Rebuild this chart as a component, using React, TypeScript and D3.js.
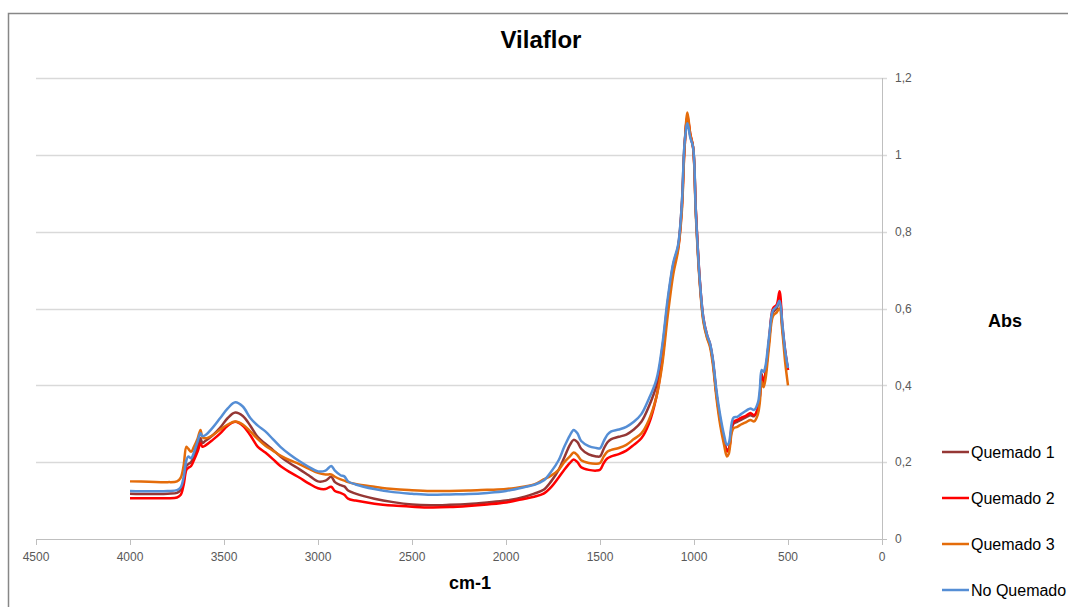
import React from 'react';
import * as d3 from 'd3';

const wavenumbers = [
  4000, 3900, 3800, 3750, 3730, 3715, 3700, 3690, 3675, 3660, 3640, 3625, 3615, 3600, 3560, 3520, 3480, 3440,
  3400, 3360, 3320, 3280, 3240, 3200, 3150, 3100, 3050, 3000, 2960, 2930, 2910, 2880, 2860, 2840, 2800, 2700,
  2600, 2500, 2400, 2300, 2200, 2100, 2000, 1900, 1850, 1800, 1760, 1720, 1690, 1660, 1640, 1620, 1600, 1560,
  1520, 1500, 1480, 1460, 1440, 1400, 1360, 1320, 1280, 1240, 1200, 1170, 1140, 1110, 1085, 1065, 1050, 1035,
  1020, 1005, 990, 970, 950, 930, 915, 900, 880, 860, 840, 825, 815, 800, 790, 770, 750, 720, 700, 680, 660,
  650, 640, 630, 620, 600, 580, 560, 545, 530, 515, 500,
];

const quemado1 = [
  0.118, 0.117, 0.118, 0.12, 0.128, 0.15, 0.19, 0.195, 0.2, 0.215, 0.24, 0.262, 0.25, 0.255, 0.27, 0.29, 0.315, 0.329,
  0.32, 0.295, 0.265, 0.248, 0.232, 0.215, 0.197, 0.182, 0.166, 0.15, 0.152, 0.162, 0.148, 0.14, 0.137, 0.126, 0.118, 0.105,
  0.096, 0.09, 0.088, 0.089, 0.091, 0.095, 0.1, 0.11, 0.118, 0.128, 0.15, 0.18, 0.212, 0.245, 0.258, 0.252, 0.235, 0.22,
  0.215, 0.215, 0.235, 0.252, 0.26, 0.266, 0.272, 0.285, 0.305, 0.345, 0.4, 0.49, 0.615, 0.715, 0.76, 0.87, 1.03, 1.095,
  1.05, 1.02, 0.85, 0.675, 0.57, 0.525, 0.505, 0.465, 0.375, 0.31, 0.26, 0.232, 0.235, 0.285, 0.3, 0.305, 0.31, 0.318, 0.322, 0.32, 0.34,
  0.37, 0.43, 0.405, 0.43, 0.52, 0.59, 0.6, 0.63, 0.55, 0.485, 0.44,
];

const quemado2 = [
  0.106, 0.106, 0.106, 0.108, 0.115, 0.14, 0.18, 0.185, 0.19, 0.205, 0.228, 0.249, 0.24, 0.243, 0.258, 0.275, 0.295, 0.305,
  0.295, 0.27, 0.24, 0.225, 0.208, 0.19, 0.174, 0.16, 0.145, 0.132, 0.13, 0.136, 0.125, 0.12, 0.115, 0.105, 0.1, 0.092,
  0.087, 0.084, 0.082, 0.083, 0.086, 0.09, 0.095, 0.105, 0.11, 0.118, 0.135, 0.16, 0.18, 0.198, 0.207, 0.2, 0.187, 0.18,
  0.178, 0.18, 0.198, 0.21, 0.215, 0.221, 0.23, 0.245, 0.262, 0.3, 0.37, 0.46, 0.6, 0.705, 0.755, 0.86, 1.02, 1.1,
  1.055, 1.02, 0.855, 0.68, 0.575, 0.53, 0.508, 0.465, 0.375, 0.305, 0.255, 0.228, 0.232, 0.29, 0.305, 0.31, 0.315, 0.322, 0.328, 0.322, 0.34,
  0.37, 0.425, 0.402, 0.43, 0.52, 0.6, 0.61, 0.645, 0.555, 0.49, 0.44,
];

const quemado3 = [
  0.15, 0.149, 0.148, 0.15, 0.16, 0.19, 0.24, 0.235, 0.227, 0.24, 0.262, 0.284, 0.265, 0.262, 0.27, 0.285, 0.298, 0.306,
  0.298, 0.28, 0.26, 0.243, 0.23, 0.217, 0.205, 0.195, 0.183, 0.172, 0.168, 0.168, 0.162, 0.155, 0.152, 0.148, 0.143, 0.136,
  0.13, 0.127, 0.125, 0.125, 0.126, 0.128, 0.13, 0.137, 0.142, 0.155, 0.165, 0.18, 0.2, 0.215, 0.225, 0.218, 0.205, 0.198,
  0.196, 0.198, 0.215, 0.228, 0.232, 0.237, 0.245, 0.26, 0.275, 0.31, 0.37, 0.45, 0.58, 0.69, 0.75, 0.85, 1.02, 1.11,
  1.055, 1.02, 0.84, 0.67, 0.565, 0.522, 0.5, 0.455, 0.365, 0.295, 0.245, 0.215, 0.222, 0.275, 0.288, 0.292, 0.298, 0.305, 0.31, 0.306, 0.325,
  0.355, 0.41, 0.395, 0.415, 0.505, 0.58, 0.59, 0.6, 0.54, 0.46, 0.4,
];

const noQuemado = [
  0.125, 0.124, 0.125, 0.127, 0.135, 0.16, 0.205, 0.215, 0.21, 0.225, 0.255, 0.275, 0.268, 0.27, 0.29, 0.315, 0.34, 0.356,
  0.345, 0.315, 0.295, 0.28, 0.26, 0.24, 0.22, 0.203, 0.188, 0.176, 0.178, 0.19, 0.178, 0.166, 0.163, 0.15, 0.142, 0.13,
  0.122, 0.118, 0.115, 0.116, 0.117, 0.12, 0.125, 0.135, 0.141, 0.152, 0.175, 0.205, 0.24, 0.27, 0.284, 0.275, 0.255, 0.242,
  0.237, 0.236, 0.255, 0.272, 0.28, 0.285, 0.292, 0.305, 0.325, 0.365, 0.415, 0.5, 0.625, 0.72, 0.765, 0.87, 1.03, 1.082,
  1.045, 1.02, 0.85, 0.68, 0.575, 0.53, 0.51, 0.47, 0.385, 0.32, 0.27, 0.245, 0.25, 0.3, 0.316, 0.318, 0.325, 0.335, 0.34, 0.336, 0.355,
  0.39, 0.44, 0.435, 0.45, 0.53, 0.595, 0.605, 0.62, 0.56, 0.49, 0.445,
];

const seriesNames = ['Quemado 1', 'Quemado 2', 'Quemado 3', 'No Quemado'];
const seriesColors = ['#953735', '#ff0000', '#e46c0a', '#558ed5'];
const xTicks = [4500, 4000, 3500, 3000, 2500, 2000, 1500, 1000, 500, 0];
const yTicks = [0, 0.2, 0.4, 0.6, 0.8, 1, 1.2];

const W = 1068;
const H = 607;
const font = '"Liberation Sans", Arial, sans-serif';

export default function App() {
  const x = d3.scaleLinear().domain([4500, 0]).range([36, 882]);
  const y = d3.scaleLinear().domain([0, 1.2]).range([539, 78]);

  const allSeries = [quemado1, quemado2, quemado3, noQuemado];
  const line = d3
    .line<number>()
    .x((_, i) => x(wavenumbers[i]))
    .y((d) => y(d))
    .curve(d3.curveCatmullRom.alpha(0.5));

  const fmt = (v: number) => String(+v.toFixed(1)).replace('.', ',');

  return (
    <div style={{ position: 'absolute', left: 0, top: 0 }}>
      <svg width={W} height={H} style={{ display: 'block', background: '#fff' }}>
        <rect x={8.5} y={13.5} width={1100} height={700} fill="#fff" stroke="#878787" strokeWidth={1.5} />

        {/* gridlines */}
        {yTicks.slice(1).map((t) => (
          <line key={t} x1={36} x2={887} y1={Math.round(y(t)) + 0.5} y2={Math.round(y(t)) + 0.5} stroke="#d9d9d9" strokeWidth={1.3} />
        ))}

        {/* axes */}
        <line x1={882.5} x2={882.5} y1={y(1.2)} y2={y(0)} stroke="#bfbfbf" />
        <line x1={36} x2={887} y1={539.5} y2={539.5} stroke="#bfbfbf" />
        {xTicks.map((t) => (
          <g key={t}>
            <line x1={Math.round(x(t)) + 0.5} x2={Math.round(x(t)) + 0.5} y1={539} y2={545} stroke="#bfbfbf" />
            <text x={x(t)} y={561} textAnchor="middle" fontSize={12} fill="#595959" fontFamily={font}>
              {t}
            </text>
          </g>
        ))}
        {yTicks.map((t) => (
          <text key={t} x={895} y={y(t)} dy="0.35em" fontSize={12} fill="#595959" fontFamily={font}>
            {fmt(t)}
          </text>
        ))}

        {/* series */}
        {allSeries.map((s, i) => (
          <path key={i} d={line(s) || ''} fill="none" stroke={seriesColors[i]} strokeWidth={2.5} strokeLinejoin="round" />
        ))}

        {/* titles */}
        <text x={541} y={48} textAnchor="middle" fontSize={24} fontWeight="bold" fontFamily={font} fill="#000">
          Vilaflor
        </text>
        <text x={470} y={589} textAnchor="middle" fontSize={18} fontWeight="bold" fontFamily={font} fill="#000">
          cm-1
        </text>
        <text x={1005} y={327} textAnchor="middle" fontSize={18} fontWeight="bold" fontFamily={font} fill="#000">
          Abs
        </text>

        {/* legend */}
        {seriesNames.map((n, i) => {
          const ly = 452 + i * 46;
          return (
            <g key={n}>
              <line x1={942} x2={969} y1={ly} y2={ly} stroke={seriesColors[i]} strokeWidth={2.5} />
              <text x={971} y={ly} dy="0.36em" fontSize={16} fontFamily={font} fill="#000">
                {n}
              </text>
            </g>
          );
        })}
      </svg>
    </div>
  );
}
